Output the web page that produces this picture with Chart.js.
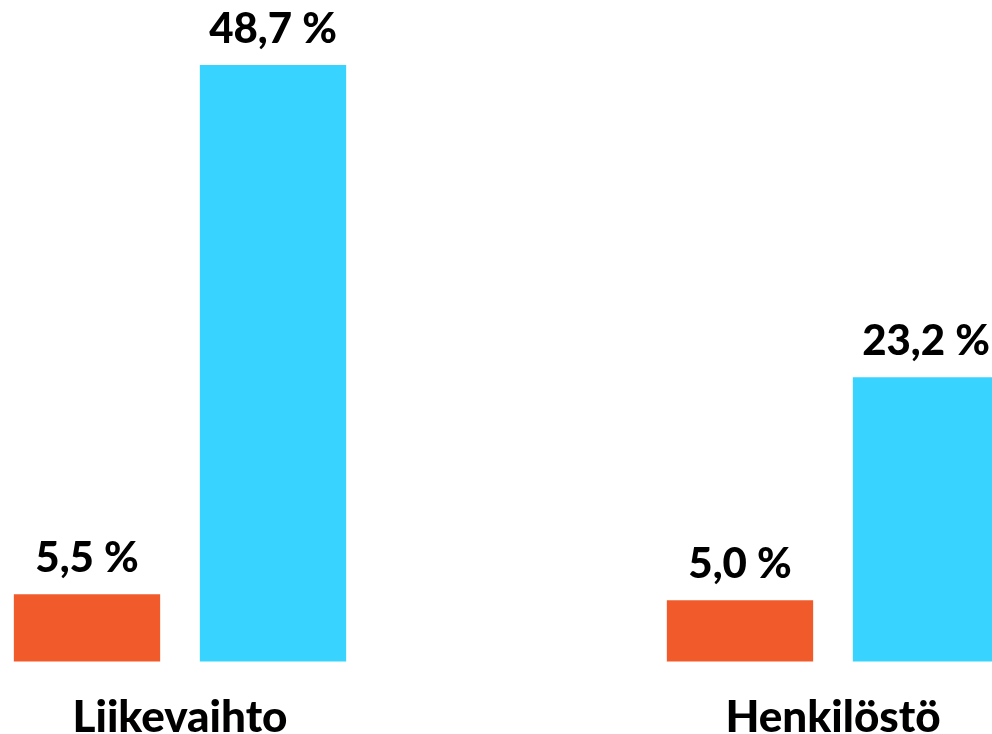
<!DOCTYPE html>
<html>
<head>
<meta charset="utf-8">
<script src="https://cdn.jsdelivr.net/npm/chart.js@4"></script>
<style>
  html, body { margin: 0; padding: 0; background: #fff; }
  #wrap { width: 992px; height: 734px; position: relative; }
</style>
</head>
<body>
<div id="wrap"><canvas id="chart"></canvas></div>
<script>
const categories = ["Liikevaihto", "Henkilöstö"];
const seriesOrange = [5.5, 5.0];
const seriesCyan = [48.7, 23.2];
const yMax = 54;

const FONT = "Lato, 'DejaVu Sans', sans-serif";

function fmt(v) {
  return v.toFixed(1).replace(".", ",") + " %";
}

const valueLabels = {
  id: "valueLabels",
  afterDatasetsDraw(chart) {
    const ctx = chart.ctx;
    ctx.save();
    ctx.font = `900 42px ${FONT}`;
    ctx.fillStyle = "#000";
    ctx.textAlign = "center";
    ctx.textBaseline = "alphabetic";
    chart.data.datasets.forEach((ds, i) => {
      chart.getDatasetMeta(i).data.forEach((bar, j) => {
        ctx.fillText(fmt(ds.data[j]), bar.x, bar.y - 22);
      });
    });
    ctx.restore();
  }
};

new Chart(document.getElementById("chart"), {
  type: "bar",
  data: {
    labels: categories,
    datasets: [
      { data: seriesOrange, backgroundColor: "#f15a2b", clip: false },
      { data: seriesCyan, backgroundColor: "#38d3ff", clip: false }
    ]
  },
  options: {
    responsive: true,
    maintainAspectRatio: false,
    devicePixelRatio: 1,
    animation: false,
    categoryPercentage: 0.5697,
    barPercentage: 0.7866,
    // negative bottom padding lets the tick labels sit low, near the canvas edge
    layout: { padding: { left: 180, right: 159, top: 0, bottom: -40 } },
    plugins: { legend: { display: false }, tooltip: { enabled: false } },
    scales: {
      x: {
        offset: false,
        grid: { display: false, drawTicks: false },
        border: { display: false },
        ticks: {
          color: "#000",
          padding: 36.45,
          maxRotation: 0,
          autoSkip: false,
          font: { family: FONT, size: 44, weight: "900", lineHeight: 0.9 }
        }
      },
      y: {
        display: false,
        min: 0,
        max: yMax
      }
    }
  },
  plugins: [valueLabels]
});
</script>
</body>
</html>
